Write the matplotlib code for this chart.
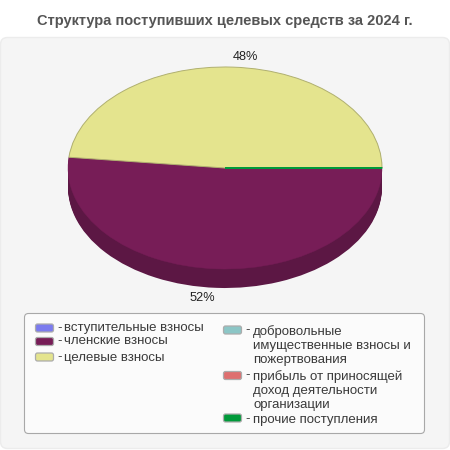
import matplotlib
matplotlib.use('Agg')
import matplotlib.pyplot as plt
from matplotlib.patches import FancyBboxPatch

plt.rcParams['font.family'] = ['Liberation Sans', 'DejaVu Sans']

title = 'Структура поступивших целевых средств за 2024 г.'
categories = ['вступительные взносы', 'членские взносы', 'целевые взносы',
              'добровольные\nимущественные взносы и\nпожертвования',
              'прибыль от приносящей\nдоход деятельности\nорганизации',
              'прочие поступления']
values = [0, 51.7, 48.25, 0, 0, 0.05]
percent_labels = ['52%', '48%']
colors = ['#7b7bee', '#771d57', '#e4e48e', '#8cc6c6', '#de6f6f', '#009a3a']
side_colors = ['#5a5ab0', '#5c1744', '#acac6a', '#6a9696', '#a85454', '#007530']

fig = plt.figure(figsize=(4.5, 4.5), dpi=100, facecolor='white')

# overlay in pixel coordinates, y going down
bg = fig.add_axes([0, 0, 1, 1], zorder=0)
bg.set_xlim(0, 450)
bg.set_ylim(450, 0)
bg.axis('off')

bg.text(225, 21, title, ha='center', va='center', fontsize=10.5,
        fontweight='bold', color='#555555')

panel = FancyBboxPatch((0.5, 37.5), 449, 411, boxstyle='round,pad=0,rounding_size=7',
                       facecolor='#f5f5f5', edgecolor='#ececec', linewidth=1)
bg.add_patch(panel)
legend_box = FancyBboxPatch((24.5, 313.5), 400, 120, boxstyle='round,pad=0,rounding_size=4',
                            facecolor='#fbfbfb', edgecolor='#a8a8a8', linewidth=0.8)
bg.add_patch(legend_box)

# pie, squashed by turning the equal aspect off
depth = 19 / 101
ax = fig.add_axes([68 / 450, (450 - 288) / 450, 314 / 450, 221 / 450], zorder=1)

for i in range(19, 0, -1):
    wedges, _ = ax.pie(values, colors=side_colors, startangle=0, counterclock=False,
                       center=(0, -i / 101), radius=1,
                       wedgeprops={'linewidth': 0})
    for w in wedges:
        w.set_clip_on(False)

wedges, _ = ax.pie(values, colors=colors, startangle=0, counterclock=False,
                   center=(0, 0), radius=1, wedgeprops={'linewidth': 0})
for w, c, v in zip(wedges, colors, values):
    w.set_clip_on(False)
    if v == 0:
        w.set_visible(False)
wedges[1].set_edgecolor('#771d57')
wedges[1].set_linewidth(0.3)
wedges[2].set_edgecolor('#b0b070')
wedges[2].set_linewidth(0.7)
wedges[5].set_edgecolor(colors[5])
wedges[5].set_linewidth(1.0)

ax.set_aspect('auto')
ax.set_xlim(-1, 1)
ax.set_ylim(-1 - depth, 1)

bg.text(202, 298, percent_labels[0], ha='center', va='center', fontsize=9.2, color='#222222')
bg.text(245.5, 56.5, percent_labels[1], ha='center', va='center', fontsize=9.2, color='#222222')

# legend
swatch_x = [35, 35, 35, 223, 223, 223]
swatch_y = [328, 341.5, 357, 330, 375.5, 418]
text_y = [328, 341, 357, 330.5, 375.5, 419]
for i, name in enumerate(categories):
    sw = FancyBboxPatch((swatch_x[i] + 0.5, swatch_y[i] - 4), 18, 8,
                        boxstyle='round,pad=0,rounding_size=2',
                        facecolor=colors[i], edgecolor='#acacac', linewidth=0.9, zorder=3)
    bg.add_patch(sw)
    left = i < 3
    bg.text(swatch_x[i] + 22, text_y[i], '-', ha='left', va='center', fontsize=9.5,
            color='#3a3a3a', zorder=3)
    bg.text(swatch_x[i] + (29 if left else 30), text_y[i] - 5.5, name, ha='left', va='top',
            fontsize=9.5, color='#3a3a3a', linespacing=1.2, zorder=3)

fig.savefig('out.png', dpi=100)
